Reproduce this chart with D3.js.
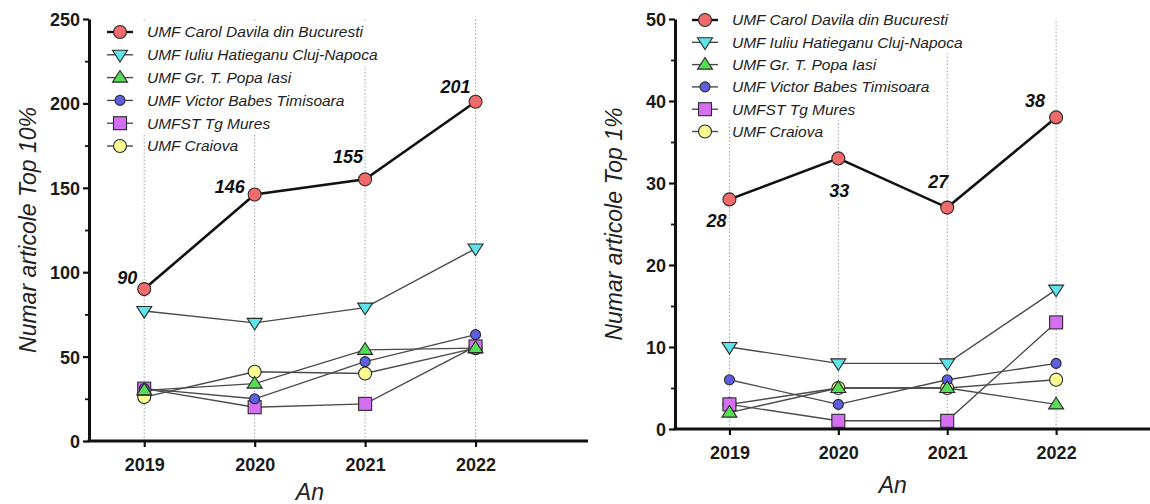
<!DOCTYPE html>
<html>
<head>
<meta charset="utf-8">
<script src="https://cdn.jsdelivr.net/npm/d3@7/dist/d3.min.js"></script>
<style>
  html, body { margin: 0; padding: 0; background: #fff; }
  svg { display: block; font-family: "Liberation Sans", Arial, Helvetica, sans-serif; }
</style>
</head>
<body>
<svg id="chart" width="1150" height="504"></svg>
<script>
// ---------------- DATA ----------------
const years = [2019, 2020, 2021, 2022];
const institutions = [
  "UMF Carol Davila din Bucuresti",
  "UMF Iuliu Hatieganu Cluj-Napoca",
  "UMF Gr. T. Popa Iasi",
  "UMF Victor Babes Timisoara",
  "UMFST Tg Mures",
  "UMF Craiova"
];
// Numar articole Top 10%
const top10Carol    = [90, 146, 155, 201];
const top10Iuliu    = [77, 70, 79, 114];
const top10Popa     = [30, 34, 54, 55];
const top10Babes    = [31, 25, 47, 63];
const top10Mures    = [31, 20, 22, 56];
const top10Craiova  = [26, 41, 40, 55];
// Numar articole Top 1%
const top1Carol     = [28, 33, 27, 38];
const top1Iuliu     = [10, 8, 8, 17];
const top1Popa      = [2, 5, 5, 3];
const top1Babes     = [6, 3, 6, 8];
const top1Mures     = [3, 1, 1, 13];
const top1Craiova   = [3, 5, 5, 6];
// axis ticks
const top10Ticks = [0, 50, 100, 150, 200, 250];
const top10Minor = [25, 75, 125, 175, 225];
const top1Ticks  = [0, 10, 20, 30, 40, 50];
const top1Minor  = [5, 15, 25, 35, 45];

// ---------------- STYLES ----------------
const symbols = ["circle", "triDown", "triUp", "smallCircle", "square", "circle"];
const fills   = ["#f26b6b", "#5fe3ea", "#55dd55", "#5e5ee0", "#d56ff2", "#fbfb94"];

const svg = d3.select("#chart");

function drawSymbol(g, type, x, y, fill) {
  const stroke = "#2a2a2a", sw = 1.1;
  let el;
  if (type === "circle") {
    el = g.append("circle").attr("cx", x).attr("cy", y).attr("r", 6.5);
  } else if (type === "smallCircle") {
    el = g.append("circle").attr("cx", x).attr("cy", y).attr("r", 5);
  } else if (type === "square") {
    el = g.append("rect").attr("x", x - 6.5).attr("y", y - 6.5).attr("width", 13).attr("height", 13);
  } else if (type === "triDown") {
    const s = 7.5;
    el = g.append("path").attr("d", `M${x - s},${y - s * 0.6}L${x + s},${y - s * 0.6}L${x},${y + s * 0.95}Z`);
  } else if (type === "triUp") {
    const s = 7.5;
    el = g.append("path").attr("d", `M${x - s},${y + s * 0.6}L${x + s},${y + s * 0.6}L${x},${y - s * 0.95}Z`);
  }
  el.attr("fill", fill).attr("stroke", stroke).attr("stroke-width", sw);
}

function panel(cfg) {
  const g = svg.append("g");
  const x = d3.scaleLinear().domain([2018.5, 2023]).range(cfg.xRange);
  const y = d3.scaleLinear().domain(cfg.yDomain).range(cfg.yRange);

  // vertical dotted gridlines
  g.append("g").selectAll("line").data(years).join("line")
    .attr("x1", d => x(d)).attr("x2", d => x(d))
    .attr("y1", y(cfg.yDomain[0])).attr("y2", y(cfg.yDomain[1]))
    .attr("stroke", "#9aa3b0").attr("stroke-width", 1).attr("stroke-dasharray", "1.5,2");

  // series lines
  const line = d3.line().x((d, i) => x(years[i])).y(d => y(d));
  for (let s = cfg.series.length - 1; s >= 0; s--) {
    g.append("path").datum(cfg.series[s]).attr("d", line)
      .attr("fill", "none")
      .attr("stroke", s === 0 ? "#111" : "#4a4a4a")
      .attr("stroke-width", s === 0 ? 2.6 : 1.4);
  }
  // markers: later series underneath, first on top
  for (let s = cfg.series.length - 1; s >= 0; s--) {
    const mg = g.append("g");
    cfg.series[s].forEach((v, i) => drawSymbol(mg, symbols[s], x(years[i]), y(v), fills[s]));
  }

  // axes
  const xAxis = g.append("g").attr("transform", `translate(0,${y(0)})`)
    .call(d3.axisBottom(x).tickValues(years).tickFormat(d3.format("d")).tickSize(6).tickSizeOuter(0));
  xAxis.select(".domain").attr("stroke", "#111").attr("stroke-width", 3)
    .attr("d", `M${cfg.xRange[0] - 1.5},0H${cfg.xAxisEnd}`);
  xAxis.selectAll(".tick line").attr("stroke", "#111").attr("stroke-width", 2.2);
  xAxis.selectAll(".tick text").attr("font-size", 18).attr("font-weight", "bold")
    .attr("fill", "#1a1a1a").attr("dy", 0).attr("y", 30);

  const yAxis = g.append("g").attr("transform", `translate(${cfg.xRange[0]},0)`)
    .call(d3.axisLeft(y).tickValues(cfg.ticks).tickFormat(d3.format("d")).tickSize(6).tickSizeOuter(0));
  yAxis.select(".domain").attr("stroke", "#111").attr("stroke-width", 3);
  yAxis.selectAll(".tick line").attr("stroke", "#111").attr("stroke-width", 2.2);
  yAxis.selectAll(".tick text").attr("font-size", 18).attr("font-weight", "bold")
    .attr("fill", "#1a1a1a").attr("x", -9).attr("dy", "0.36em");
  const yMinor = g.append("g").attr("transform", `translate(${cfg.xRange[0]},0)`)
    .call(d3.axisLeft(y).tickValues(cfg.minor).tickFormat("").tickSize(4).tickSizeOuter(0));
  yMinor.select(".domain").remove();
  yMinor.selectAll(".tick line").attr("stroke", "#111").attr("stroke-width", 1.8);

  // data labels on main series
  cfg.series[0].forEach((v, i) => {
    g.append("text")
      .attr("x", x(years[i]) + cfg.labelDx[i]).attr("y", y(v) + cfg.labelDy[i])
      .attr("text-anchor", "middle").attr("font-size", 18)
      .attr("font-weight", "bold").attr("font-style", "italic").attr("fill", "#111")
      .text(v);
  });

  // axis titles
  g.append("text")
    .attr("transform", `translate(${cfg.yTitleX},${(cfg.yRange[0] + cfg.yRange[1]) / 2}) rotate(-90)`)
    .attr("text-anchor", "middle").attr("font-size", 23).attr("font-style", "italic").attr("fill", "#222")
    .text(cfg.yTitle);
  g.append("text")
    .attr("x", (x(years[0]) + x(years[years.length - 1])) / 2).attr("y", cfg.xTitleY)
    .attr("text-anchor", "middle").attr("font-size", 23).attr("font-style", "italic").attr("fill", "#222")
    .text("An");

  // legend
  const lg = g.append("g");
  institutions.forEach((name, s) => {
    const ly = cfg.legendY + s * cfg.legendStep;
    const tx = cfg.legendX + 27;
    const t = lg.append("text").attr("x", tx).attr("y", ly).attr("dy", "0.35em")
      .attr("font-size", 15.5).attr("font-style", "italic").attr("fill", "#222").text(name);
    const w = t.node().getComputedTextLength();
    const pad = s < institutions.length - 1 ? 4 : 0;
    lg.insert("rect", "text").attr("x", tx - pad).attr("y", ly - cfg.legendStep / 2)
      .attr("width", w + pad + 3).attr("height", cfg.legendStep).attr("fill", "#fff");
    lg.append("line").attr("x1", cfg.legendX - 13).attr("x2", cfg.legendX + 13)
      .attr("y1", ly).attr("y2", ly)
      .attr("stroke", s === 0 ? "#111" : "#4a4a4a").attr("stroke-width", s === 0 ? 2.4 : 1.4);
    drawSymbol(lg, symbols[s], cfg.legendX, ly, fills[s]);
  });
}

panel({
  xRange: [89, 586], xAxisEnd: 588,
  yDomain: [0, 250], yRange: [441, 19],
  ticks: top10Ticks, minor: top10Minor,
  series: [top10Carol, top10Iuliu, top10Popa, top10Babes, top10Mures, top10Craiova],
  labelDx: [-17, -25, -17, -20], labelDy: [-5, -2, -16, -9],
  yTitle: "Numar articole Top 10%", yTitleX: 36, xTitleY: 500,
  legendX: 120, legendY: 32, legendStep: 22.8
});

panel({
  xRange: [675, 1165], xAxisEnd: 1165,
  yDomain: [0, 50], yRange: [429, 19],
  ticks: top1Ticks, minor: top1Minor,
  series: [top1Carol, top1Iuliu, top1Popa, top1Babes, top1Mures, top1Craiova],
  labelDx: [-13, 1, -9, -21], labelDy: [28, 39, -20, -10],
  yTitle: "Numar articole Top 1%", yTitleX: 622, xTitleY: 493,
  legendX: 705, legendY: 20, legendStep: 22.3
});
</script>
</body>
</html>
